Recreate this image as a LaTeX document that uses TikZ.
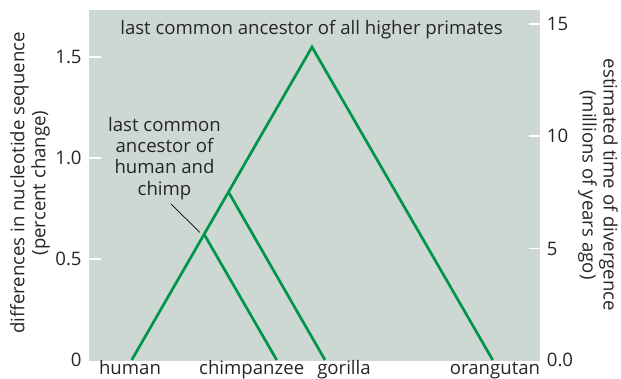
\documentclass[tikz,border=0pt]{standalone}
\usepackage{fontspec}
\setmainfont{Open Sans}
\definecolor{panelgray}{RGB}{205,216,211}
\definecolor{branchgreen}{RGB}{0,150,72}
\tikzset{
  tpanel/.style={fill=panelgray, draw=none},
  tbranch/.style={line width=1.35pt, draw=branchgreen, line join=miter, line cap=butt},
  ttick/.style={line width=0.7pt, draw=white},
  tpoint/.style={line width=0.35pt, draw=black},
  tlabel/.style={font=\fontsize{9.3}{10.6}\selectfont, text=black!85, inner sep=0pt},
}
\begin{document}
\begin{tikzpicture}[x=0.5pt, y=-0.5pt]
\useasboundingbox (0,0) rectangle (621,379);
\fill[tpanel] (89,10) rectangle (540,360.5);
% tip and fork points
\coordinate (human) at (131.7,360);
\coordinate (chimp) at (276.7,360);
\coordinate (gorilla) at (325,360);
\coordinate (orang) at (492.7,360);
\coordinate (root) at (312,47);
\coordinate (hcg) at (228.5,192);
\coordinate (hc) at (204,234);
\draw[tbranch] (human) -- (root) -- (orang);
\draw[tbranch] (hcg) -- (gorilla);
\draw[tbranch] (hc) -- (chimp);
% left axis
\draw[ttick] (89,57) -- (101,57);
\draw[ttick] (89,158) -- (101,158);
\draw[ttick] (89,259) -- (101,259);
\node[tlabel, anchor=east] (l15) at (82,57) {1.5};
\node[tlabel, anchor=east] (l10) at (82,158) {1.0};
\node[tlabel, anchor=east] (l05) at (82,259) {0.5};
\node[tlabel, anchor=east] (l00) at (82,360) {0};
% right axis
\draw[ttick] (529,24) -- (540,24);
\draw[ttick] (529,136) -- (540,136);
\draw[ttick] (529,248.7) -- (540,248.7);
\node[tlabel, anchor=west] (r15) at (546.5,24) {15};
\node[tlabel, anchor=west] (r10) at (546.5,136) {10};
\node[tlabel, anchor=west] (r05) at (546.5,248.7) {5};
\node[tlabel, anchor=west] (r00) at (546.5,360) {0.0};
% axis titles
\node[tlabel, rotate=90, align=center] (ytitle) at (30,183)
  {differences in nucleotide sequence\\(percent change)};
\node[tlabel, rotate=-90, align=center] (ztitle) at (598,185)
  {estimated time of divergence\\(millions of years ago)};
% labels
\node[tlabel] (toplab) at (311.5,30) {last common ancestor of all higher primates};
\node[tlabel, align=center] (hclab) at (164.5,158.5)
  {last common\\ancestor of\\human and\\chimp};
\coordinate (ptr) at (171,204);
\coordinate (ptrtip) at (200,232.5);
\draw[tpoint] (ptr) -- (ptrtip);
\node[tlabel, anchor=base] (nhuman) at (130,374.3) {human};
\node[tlabel, anchor=base] (nchimp) at (251.7,374.3) {chimpanzee};
\node[tlabel, anchor=base] (ngorilla) at (344,374.3) {gorilla};
\node[tlabel, anchor=base] (norang) at (495,374.3) {orangutan};
\end{tikzpicture}
\end{document}
